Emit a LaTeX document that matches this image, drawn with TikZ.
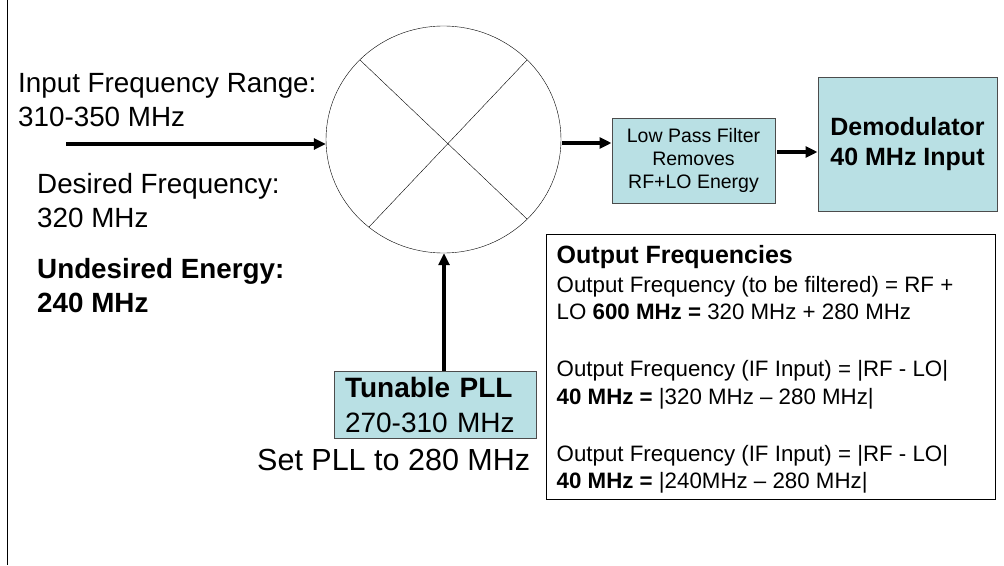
\documentclass[tikz,border=0pt]{standalone}
\usepackage{fontspec}
\setmainfont{Liberation Sans}
\usetikzlibrary{arrows.meta,shapes.geometric}
\definecolor{boxteal}{RGB}{185,224,228}
\tikzset{
    block/.style={draw=black!70!white,fill=boxteal,line width=1pt,inner sep=0pt,align=center},
    label/.style={inner sep=0pt,align=left,anchor=north west,font=\fontsize{27.8}{34}\selectfont},
    feed/.style={line width=3.5pt,-{Triangle[length=12pt,width=11pt]}}
}
\begin{document}
\begin{tikzpicture}[x=1pt,y=-1pt]
    \useasboundingbox(0,0)rectangle(1004,565);
    \coordinate(edgetop)at(7,0);
    \coordinate(edgebot)at(7,565);
    \draw[line width=1pt](edgetop)--(edgebot);
    \node(mixer)at(443.5,139.5)[draw,ellipse,minimum width=235pt,minimum height=227pt,inner sep=0pt]{};
    \draw(360,60)--(527,219);
    \draw(527,60)--(369,227);
    \node(filter)at(693.5,160.5)[block,minimum width=163pt,minimum height=85pt,font=\fontsize{19.5}{23}\selectfont]{Low Pass Filter\\Removes\\RF+LO Energy};
    \node(demod)at(907.5,144)[block,minimum width=179pt,minimum height=134pt,font=\fontsize{25}{30}\selectfont\bfseries]{Demodulator\\40 MHz Input};
    \node(pll)at(435,404.5)[block,minimum width=202pt,minimum height=67pt,text width=180pt,align=left,font=\fontsize{28}{35}\selectfont]{\textbf{Tunable PLL}\\270-310 MHz};
    \node(range)at(18,73)[label]{Input Frequency Range:\\310-350 MHz};
    \node(desired)at(37,173)[label]{Desired Frequency:\\320 MHz};
    \node(undesired)at(37,258)[label,font=\fontsize{27.8}{34}\selectfont\bfseries]{Undesired Energy:\\240 MHz};
    \node(setpll)at(257,449)[label,font=\fontsize{30.5}{34}\selectfont]{Set PLL to 280 MHz};
    \node(output)at(546,234)[draw,anchor=north west,minimum width=449pt,minimum height=265pt,inner sep=0pt]{};
    \node(outtext)at(556.5,245)[inner sep=0pt,anchor=north west,align=left,font=\fontsize{22.3}{27.5}\selectfont]{\textbf{\fontsize{25}{30}\selectfont Output Frequencies}\\[1.5pt]Output Frequency (to be filtered) = RF +\\LO \textbf{600 MHz =} 320 MHz + 280 MHz\\[29.5pt]Output Frequency (IF Input) = |RF - LO|\\\textbf{40 MHz =} |320 MHz – 280 MHz|\\[29.5pt]Output Frequency (IF Input) = |RF - LO|\\\textbf{40 MHz =} |240MHz – 280 MHz|};
    \coordinate(inlet)at(66,144);
    \coordinate(pllout)at(444,371);
    \coordinate(mixout)at(562,143);
    \coordinate(filterout)at(777,152);
    \draw[feed](inlet)--(inlet-|mixer.west);
    \draw[feed](pllout)--(pllout|-mixer.south);
    \draw[feed](mixout)--(mixout-|filter.west);
    \draw[feed](filterout)--(filterout-|demod.west);
\end{tikzpicture}
\end{document}
